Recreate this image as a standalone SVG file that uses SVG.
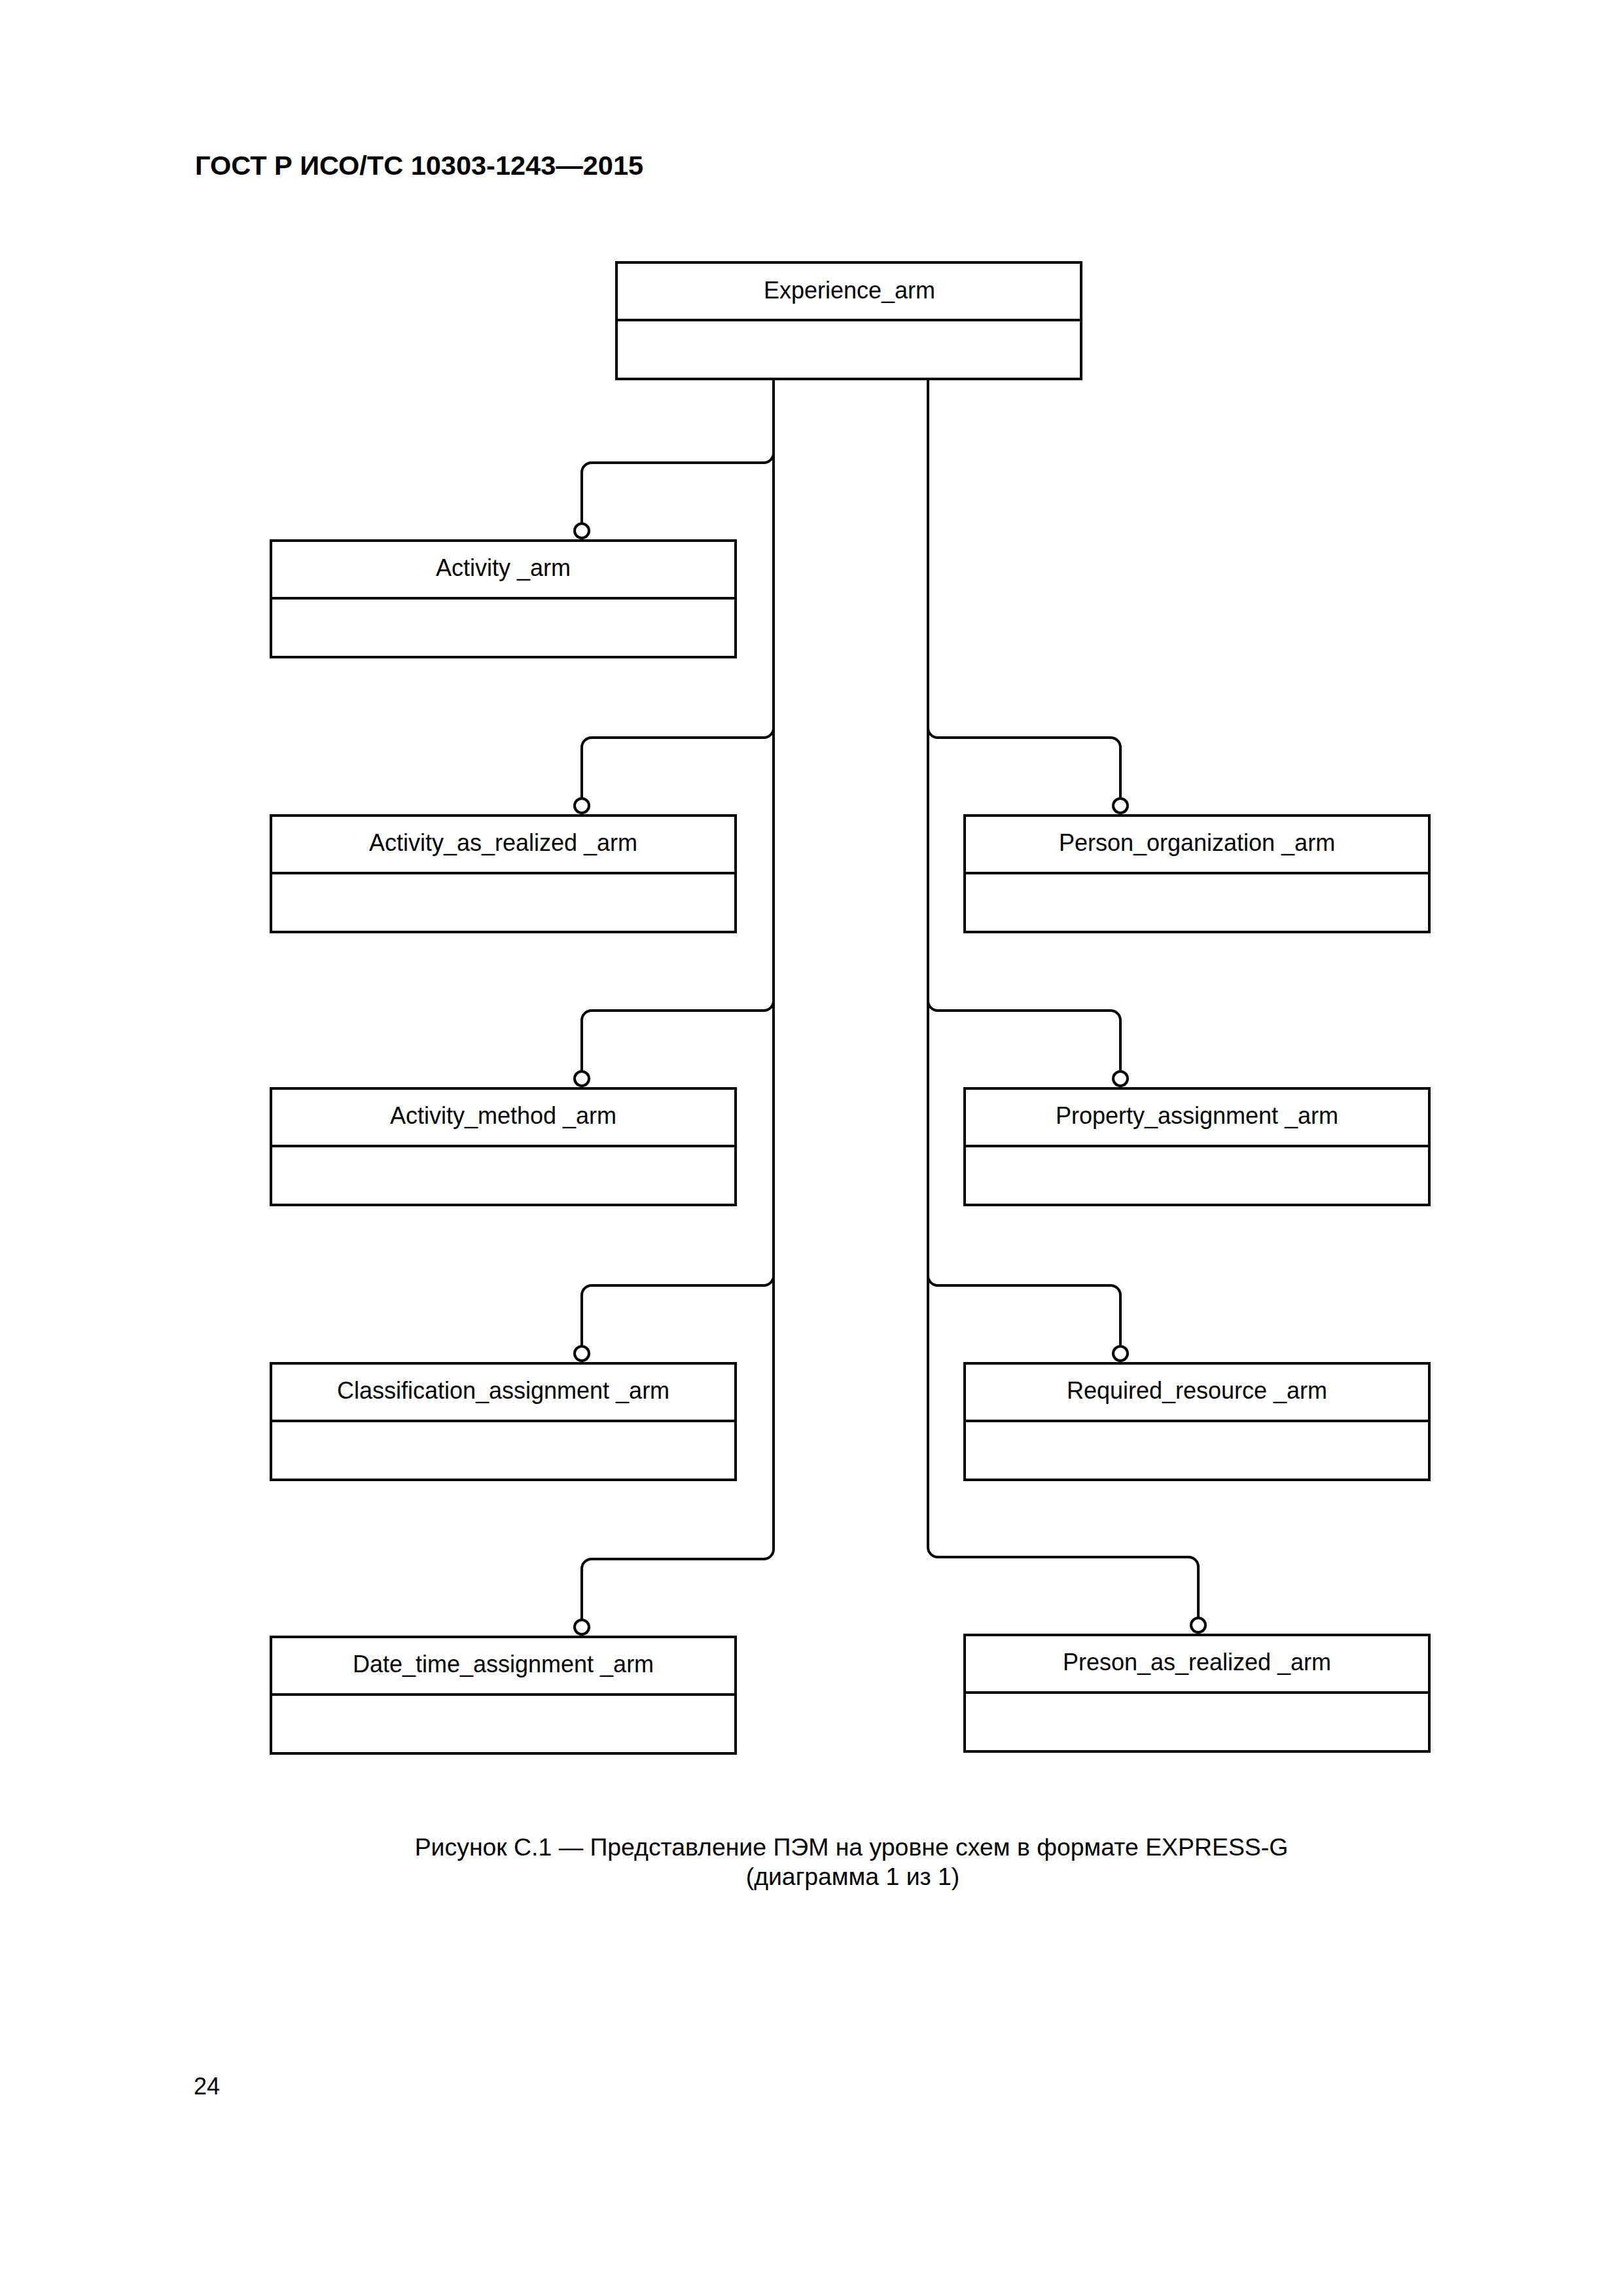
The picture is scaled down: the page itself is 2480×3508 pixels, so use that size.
<svg xmlns="http://www.w3.org/2000/svg" width="2480" height="3508" viewBox="0 0 2480 3508">
<style>
.box{fill:#fff;stroke:#000;stroke-width:4}
.div{stroke:#000;stroke-width:4}
.con{fill:none;stroke:#000;stroke-width:4}
.dot{fill:#fff;stroke:#000;stroke-width:4}
.lbl{font-family:"Liberation Sans",Arial,sans-serif;font-size:36px;text-anchor:middle;fill:#000}
.title{font-family:"Liberation Sans",Arial,sans-serif;font-size:41.5px;font-weight:bold;fill:#000}
.cap{font-family:"Liberation Sans",Arial,sans-serif;font-size:37.4px;text-anchor:middle;fill:#000}
.pg{font-family:"Liberation Sans",Arial,sans-serif;font-size:36px;fill:#000}
</style>
<rect width="2480" height="3508" fill="#fff"/>
<text class="title" x="298" y="267">ГОСТ Р ИСО/ТС 10303-1243—2015</text>

<g id="connectors">
<path class="con" d="M1182,579 L1182,2367"/>
<path class="con" d="M1418,579 L1418,2364"/>
<path class="con" d="M1182,692 A15,15 0 0 1 1167,707 L904,707 A15,15 0 0 0 889,722 L889,800"/>
<path class="con" d="M1182,1112 A15,15 0 0 1 1167,1127 L904,1127 A15,15 0 0 0 889,1142 L889,1220"/>
<path class="con" d="M1182,1529 A15,15 0 0 1 1167,1544 L904,1544 A15,15 0 0 0 889,1559 L889,1637"/>
<path class="con" d="M1182,1949 A15,15 0 0 1 1167,1964 L904,1964 A15,15 0 0 0 889,1979 L889,2057"/>
<path class="con" d="M1182,2367 A15,15 0 0 1 1167,2382 L904,2382 A15,15 0 0 0 889,2397 L889,2475"/>
<path class="con" d="M1418,1112 A15,15 0 0 0 1433,1127 L1697,1127 A15,15 0 0 1 1712,1142 L1712,1220"/>
<path class="con" d="M1418,1529 A15,15 0 0 0 1433,1544 L1697,1544 A15,15 0 0 1 1712,1559 L1712,1637"/>
<path class="con" d="M1418,1949 A15,15 0 0 0 1433,1964 L1697,1964 A15,15 0 0 1 1712,1979 L1712,2057"/>
<path class="con" d="M1418,2364 A15,15 0 0 0 1433,2379 L1816,2379 A15,15 0 0 1 1831,2394 L1831,2472"/>
<circle class="dot" cx="889" cy="811" r="11"/>
<circle class="dot" cx="889" cy="1231" r="11"/>
<circle class="dot" cx="889" cy="1648" r="11"/>
<circle class="dot" cx="889" cy="2068" r="11"/>
<circle class="dot" cx="889" cy="2486" r="11"/>
<circle class="dot" cx="1712" cy="1231" r="11"/>
<circle class="dot" cx="1712" cy="1648" r="11"/>
<circle class="dot" cx="1712" cy="2068" r="11"/>
<circle class="dot" cx="1831" cy="2483" r="11"/>
</g>

<g id="experience_arm">
<rect class="box" x="942" y="401" width="710" height="178"/>
<line class="div" x1="942" y1="489" x2="1652" y2="489"/>
<text class="lbl" x="1298" y="456">Experience_arm</text>
</g>

<g id="activity_arm">
<rect class="box" x="414" y="826" width="710" height="178"/>
<line class="div" x1="414" y1="914" x2="1124" y2="914"/>
<text class="lbl" x="769" y="880">Activity _arm</text>
</g>

<g id="activity_as_realized_arm">
<rect class="box" x="414" y="1246" width="710" height="178"/>
<line class="div" x1="414" y1="1334" x2="1124" y2="1334"/>
<text class="lbl" x="769" y="1300">Activity_as_realized _arm</text>
</g>

<g id="activity_method_arm">
<rect class="box" x="414" y="1663" width="710" height="178"/>
<line class="div" x1="414" y1="1751" x2="1124" y2="1751"/>
<text class="lbl" x="769" y="1717">Activity_method _arm</text>
</g>

<g id="classification_assignment_arm">
<rect class="box" x="414" y="2083" width="710" height="178"/>
<line class="div" x1="414" y1="2171" x2="1124" y2="2171"/>
<text class="lbl" x="769" y="2137">Classification_assignment _arm</text>
</g>

<g id="date_time_assignment_arm">
<rect class="box" x="414" y="2501" width="710" height="178"/>
<line class="div" x1="414" y1="2589" x2="1124" y2="2589"/>
<text class="lbl" x="769" y="2555">Date_time_assignment _arm</text>
</g>

<g id="person_organization_arm">
<rect class="box" x="1474" y="1246" width="710" height="178"/>
<line class="div" x1="1474" y1="1334" x2="2184" y2="1334"/>
<text class="lbl" x="1829" y="1300">Person_organization _arm</text>
</g>

<g id="property_assignment_arm">
<rect class="box" x="1474" y="1663" width="710" height="178"/>
<line class="div" x1="1474" y1="1751" x2="2184" y2="1751"/>
<text class="lbl" x="1829" y="1717">Property_assignment _arm</text>
</g>

<g id="required_resource_arm">
<rect class="box" x="1474" y="2083" width="710" height="178"/>
<line class="div" x1="1474" y1="2171" x2="2184" y2="2171"/>
<text class="lbl" x="1829" y="2137">Required_resource _arm</text>
</g>

<g id="preson_as_realized_arm">
<rect class="box" x="1474" y="2498" width="710" height="178"/>
<line class="div" x1="1474" y1="2586" x2="2184" y2="2586"/>
<text class="lbl" x="1829" y="2552">Preson_as_realized _arm</text>
</g>

<text class="cap" x="1301" y="2835">Рисунок С.1 — Представление ПЭМ на уровне схем в формате EXPRESS-G</text>
<text class="cap" x="1303" y="2880">(диаграмма 1 из 1)</text>
<text class="pg" x="296" y="3200">24</text>
</svg>
